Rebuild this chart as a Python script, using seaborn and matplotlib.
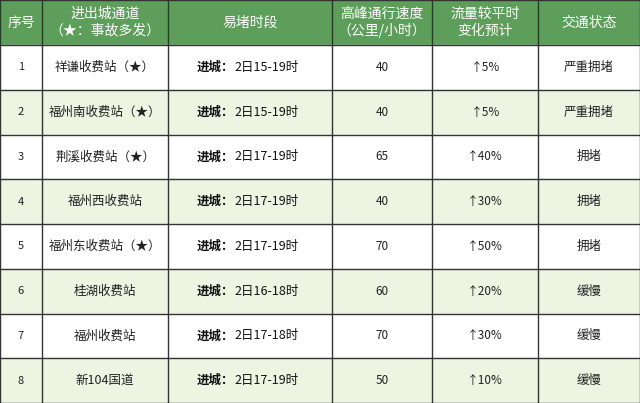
import matplotlib
matplotlib.use("Agg")
import matplotlib.pyplot as plt
import seaborn as sns
from matplotlib.patches import Rectangle

sns.set_theme(style="white", font="Noto Sans CJK SC")

headers = ["序号", "进出城通道\n（★：事故多发）", "易堵时段", "高峰通行速度\n（公里/小时）", "流量较平时\n变化预计", "交通状态"]
ids = ["1", "2", "3", "4", "5", "6", "7", "8"]
roads = ["祥谦收费站（★）", "福州南收费站（★）", "荆溪收费站（★）", "福州西收费站",
         "福州东收费站（★）", "桂湖收费站", "福州收费站", "新104国道"]
periods = ["2日15-19时", "2日15-19时", "2日17-19时", "2日17-19时",
           "2日17-19时", "2日16-18时", "2日17-18时", "2日17-19时"]
speeds = [40, 40, 65, 40, 70, 60, 70, 50]
changes = [5, 5, 40, 30, 50, 20, 30, 10]
status = ["严重拥堵", "严重拥堵", "拥堵", "拥堵", "拥堵", "缓慢", "缓慢", "缓慢"]

col_edges = [0, 42, 168, 332, 432, 538, 640]
W, H = 640, 403
head_h = 45
row_h = (H - head_h) / len(ids)

fig = plt.figure(figsize=(6.4, 4.03), dpi=100)
ax = fig.add_axes([0, 0, 1, 1])
ax.set_xlim(0, W)
ax.set_ylim(H, 0)
ax.axis("off")

green = "#5c9e5a"
alt = "#eef3e2"
line = "#333333"

ax.add_patch(Rectangle((0, 0), W, head_h, color=green, zorder=0))
for i in range(len(ids)):
    y0 = head_h + i * row_h
    ax.add_patch(Rectangle((0, y0), W, row_h, color=alt if i % 2 else "white", zorder=0))

for x in col_edges:
    ax.plot([x, x], [0, H], color=line, lw=1.0)
for i in range(len(ids) + 1):
    y = head_h + i * row_h
    ax.plot([0, W], [y, y], color=line, lw=1.0)
ax.plot([0, W], [0, 0], color=line, lw=1.0)

centers = [(col_edges[j] + col_edges[j + 1]) / 2 for j in range(6)]
for j, h in enumerate(headers):
    ax.text(centers[j], head_h / 2, h, ha="center", va="center", color="white",
            fontsize=10, linespacing=1.25)

for i in range(len(ids)):
    yc = head_h + (i + 0.5) * row_h
    ax.text(centers[0], yc, ids[i], ha="center", va="center", fontsize=8, color="#222222")
    ax.text(centers[1], yc, roads[i], ha="center", va="center", fontsize=9, color="#222222")
    ax.text(centers[2] - 16, yc, "进城：", ha="right", va="center", fontsize=9,
            color="#111111", fontweight="bold")
    ax.text(centers[2] - 16, yc, periods[i], ha="left", va="center", fontsize=9,
            color="#111111")
    ax.text(centers[3], yc, str(speeds[i]), ha="center", va="center", fontsize=8.5, color="#222222")
    ax.text(centers[4], yc, f"↑{changes[i]}%", ha="center", va="center", fontsize=8.5, color="#222222")
    ax.text(centers[5], yc, status[i], ha="center", va="center", fontsize=9, color="#222222")

fig.savefig("out.png", dpi=100)
